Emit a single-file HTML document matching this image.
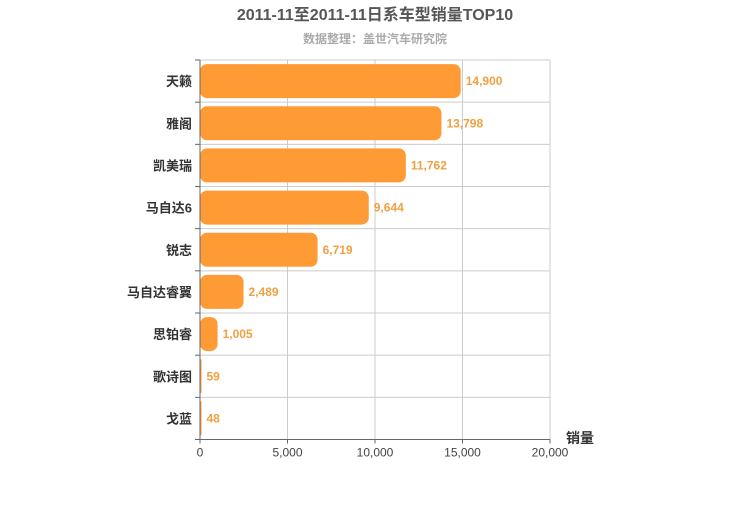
<!DOCTYPE html>
<html><head><meta charset="utf-8"><style>
body{margin:0;background:#fff;font-family:"Liberation Sans","Noto Sans CJK SC",sans-serif;}
svg text{font-family:"Liberation Sans","Noto Sans CJK SC",sans-serif;}
</style></head><body>
<svg id="chart" width="750" height="500" xmlns="http://www.w3.org/2000/svg">
<text x="375" y="20" text-anchor="middle" font-size="16" font-weight="bold" fill="#555">2011-11至2011-11日系车型销量TOP10</text>
<text x="375" y="43" text-anchor="middle" font-size="12" font-weight="bold" fill="#aaa">数据整理：盖世汽车研究院</text>
<g id="grid"></g>
<g id="bars"></g>
<g id="axes"></g>
<text x="580" y="443" text-anchor="middle" font-size="14" font-weight="bold" fill="#333">销量</text>
</svg>
<script>
const categories=["天籁","雅阁","凯美瑞","马自达6","锐志","马自达睿翼","思铂睿","歌诗图","戈蓝"];
const values=[14900,13798,11762,9644,6719,2489,1005,59,48];
const tickValues=[0,5000,10000,15000,20000];
const tickLabels=["0","5,000","10,000","15,000","20,000"];
const NS="http://www.w3.org/2000/svg";
const L=200,R=550,T=60,B=439.5,maxV=20000;
const x=v=>L+(R-L)*v/maxV;
const rowH=(B-T)/categories.length;
const y=i=>T+rowH*i;
function mk(tag,attrs,parent,txt){const e=document.createElementNS(NS,tag);for(const k in attrs)e.setAttribute(k,attrs[k]);if(txt!==undefined)e.textContent=txt;parent.appendChild(e);return e;}
const grid=document.getElementById('grid'),bars=document.getElementById('bars'),axes=document.getElementById('axes');
tickValues.forEach((v,i)=>{
  const g=mk('line',{x1:x(v),x2:x(v),y1:T,y2:B,stroke:'#ccc','stroke-width':1},grid);
  
  
  const t=mk('text',{x:x(v),y:B+17,'text-anchor':'middle','font-size':12,fill:'#444'},axes,tickLabels[i]);
  
  
  const tk=mk('line',{x1:x(v),x2:x(v),y1:B,y2:B+4,stroke:'#666'},axes);
  
  
});
for(let i=0;i<categories.length;i++){
  const g=mk('line',{x1:L,x2:R,y1:y(i),y2:y(i),stroke:'#ccc'},grid);
  
  
}
categories.forEach((c,i)=>{
  const cy=y(i)+rowH/2;
  const w=Math.max(x(values[i])-L,1.5);
  const r=Math.min(7,w/2);
  const b=mk('rect',{x:L,y:cy-17,width:w,height:34,rx:r,ry:Math.min(7,r),fill:'#ff9b35'},bars);
  
  
  const vl=mk('text',{x:L+w+5,y:cy+4,'font-size':12,'font-weight':'bold',fill:'#f0a040'},bars,values[i].toLocaleString('en-US'));
  
  
  const cl=mk('text',{x:L-8,y:cy+5,'text-anchor':'end','font-size':13,'font-weight':'bold',fill:'#333'},axes,c);
  
  
});
for(let i=0;i<=categories.length;i++){
  const tk=mk('line',{x1:L-5,x2:L,y1:y(i),y2:y(i),stroke:'#666'},axes);
  
  
}
const ya=mk('line',{x1:L,x2:L,y1:T,y2:B,stroke:'#666'},axes);


const xa=mk('line',{x1:L,x2:R,y1:B,y2:B,stroke:'#666'},axes);


</script>
</body></html>
